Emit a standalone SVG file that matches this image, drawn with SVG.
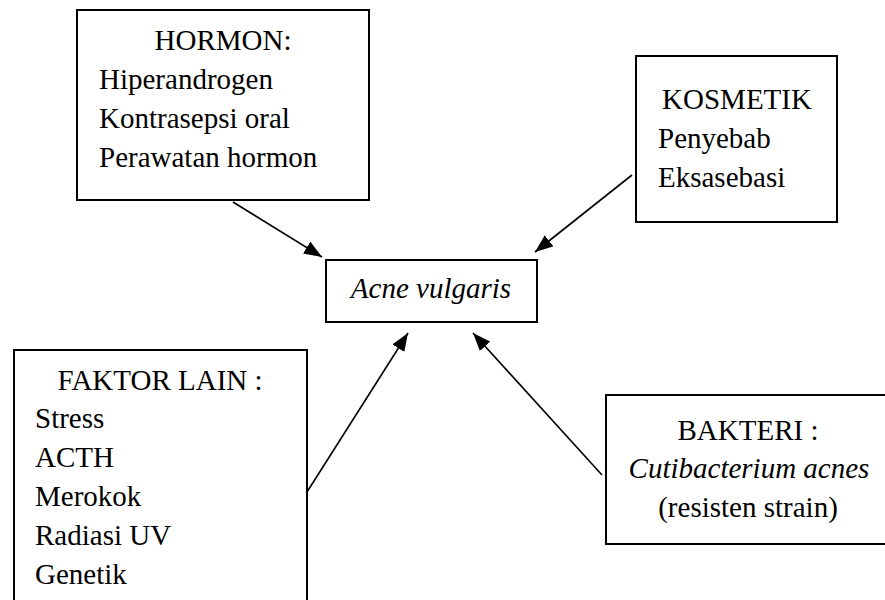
<svg xmlns="http://www.w3.org/2000/svg" width="885" height="600" viewBox="0 0 885 600">
<style>
.box{fill:#fff;stroke:#000;stroke-width:2}
.t{font-family:"Liberation Serif","Times New Roman",serif;font-size:29px;fill:#000}
.i{font-style:italic}
.m{text-anchor:middle}
.c{stroke:#000;stroke-width:1.6;fill:none}
</style>
<defs>
<marker id="ah" markerUnits="userSpaceOnUse" markerWidth="20" markerHeight="14" refX="18" refY="7" orient="auto">
<path d="M0,0 L18,7 L0,14 z" fill="#000"/>
</marker>
</defs>
<rect width="885" height="600" fill="#fff"/>
<g id="connectors">
<line class="c" x1="233" y1="202" x2="322" y2="257" marker-end="url(#ah)"/>
<line class="c" x1="632" y1="175" x2="535" y2="252" marker-end="url(#ah)"/>
<line class="c" x1="307" y1="492" x2="408" y2="333" marker-end="url(#ah)"/>
<line class="c" x1="602" y1="475" x2="473" y2="333" marker-end="url(#ah)"/>
</g>
<g id="hormon">
<rect class="box" x="77" y="10" width="292" height="190"/>
<text class="t m" x="223" y="50">HORMON:</text>
<text class="t" x="99" y="89">Hiperandrogen</text>
<text class="t" x="99" y="128">Kontrasepsi oral</text>
<text class="t" x="99" y="167">Perawatan hormon</text>
</g>
<g id="kosmetik">
<rect class="box" x="636" y="56" width="201" height="166"/>
<text class="t m" x="737" y="109">KOSMETIK</text>
<text class="t" x="658" y="148">Penyebab</text>
<text class="t" x="658" y="187">Eksasebasi</text>
</g>
<g id="acne">
<rect class="box" x="326" y="260" width="211" height="62"/>
<text class="t i m" x="431" y="298">Acne vulgaris</text>
</g>
<g id="faktor">
<rect class="box" x="14" y="350" width="293" height="270"/>
<text class="t m" x="160" y="390">FAKTOR LAIN :</text>
<text class="t" x="35" y="428">Stress</text>
<text class="t" x="35" y="467">ACTH</text>
<text class="t" x="35" y="506">Merokok</text>
<text class="t" x="35" y="545">Radiasi UV</text>
<text class="t" x="35" y="584">Genetik</text>
</g>
<g id="bakteri">
<rect class="box" x="606" y="395" width="300" height="149"/>
<text class="t m" x="748" y="440">BAKTERI :</text>
<text class="t i m" x="749" y="478">Cutibacterium acnes</text>
<text class="t m" x="748" y="517">(resisten strain)</text>
</g>
</svg>
